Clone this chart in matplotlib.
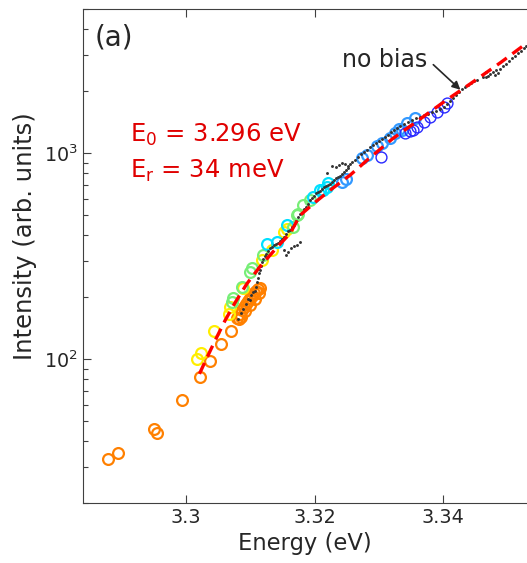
import numpy as np
import matplotlib
matplotlib.use("Agg")
import matplotlib.pyplot as plt

# ---- data (energy in eV, intensity in arb. units) ----
orange_E = [3.28794, 3.28949, 3.29502, 3.29544, 3.29938, 3.30218, 3.30381, 3.30549,
            3.30696, 3.30820, 3.30794, 3.30840, 3.30872, 3.30903, 3.30934, 3.30965,
            3.30996, 3.31027, 3.31058, 3.31089, 3.31121, 3.31152, 3.30918, 3.30996,
            3.31074, 3.31136, 3.30856]
orange_I = [32.6, 34.9, 45.6, 43.7, 63.1, 82.0, 98.1, 118.3,
            137.4, 156.7, 159.1, 166.3, 174.0, 179.9, 186.1, 192.5,
            199.1, 203.6, 210.6, 215.4, 220.3, 222.8, 172.0, 184.0,
            196.9, 210.6, 160.9]

yellow_E = [3.30167, 3.30233, 3.30436, 3.30685, 3.30669, 3.30887, 3.31183, 3.31338,
            3.31525, 3.31572]
yellow_I = [100, 107, 137, 178.5, 166, 222.8, 301.6, 337.6, 413.2, 427]

green_E = [3.30711, 3.30736, 3.30867, 3.31023, 3.31194, 3.31723, 3.31826, 3.31930,
           3.30996, 3.31665, 3.31743]
green_I = [188.9, 199.1, 225.3, 277.9, 319, 500, 559.6, 592, 264.5, 438.5, 509.7]

cyan_E = [3.31256, 3.31412, 3.31567, 3.31981, 3.32086, 3.32137, 3.32190, 3.32215]
cyan_I = [363.9, 370.5, 446.8, 614.2, 662.2, 662.2, 687.3, 714]

lblue_E = [3.32423, 3.32490, 3.32734, 3.32812, 3.32968, 3.33046, 3.33175, 3.33253,
           3.33304, 3.33357, 3.33435, 3.33564]
lblue_I = [724.4, 749, 945.5, 981, 1086, 1119, 1188, 1261, 1310, 1300, 1401, 1482]

blue_E = [3.33030, 3.33408, 3.33486, 3.33591, 3.33693, 3.33798, 3.33902, 3.34005,
          3.34058, 3.33533]
blue_I = [962.5, 1252, 1285, 1344, 1421, 1503, 1590, 1682, 1750, 1300]

nobias_E = [3.30809, 3.30856, 3.30887, 3.30934, 3.30965, 3.30996, 3.31012, 3.31043,
            3.31074, 3.31089, 3.31105, 3.31121, 3.31136, 3.31152, 3.31121, 3.31167,
            3.31183, 3.31198, 3.31230, 3.31245, 3.31276, 3.31307, 3.31339, 3.31370,
            3.31401, 3.31432, 3.31463, 3.31494, 3.31525, 3.31556, 3.31588, 3.31619,
            3.31650, 3.31681, 3.31712, 3.31743, 3.31774, 3.31805, 3.31837, 3.31868,
            3.31899, 3.31930, 3.31961, 3.31992, 3.32023, 3.32054, 3.32086, 3.32117,
            3.32148, 3.32179, 3.32210, 3.32241, 3.32272, 3.32303, 3.32335, 3.32366,
            3.32397, 3.32428, 3.32459, 3.32490, 3.32521, 3.32552, 3.32584, 3.32631,
            3.32677, 3.32724, 3.32770, 3.32817, 3.32864, 3.32910, 3.32957, 3.33004,
            3.33051, 3.33097, 3.33144, 3.33191, 3.33237, 3.33284, 3.33331, 3.33393,
            3.33455, 3.33517, 3.33580, 3.33642, 3.33704, 3.33766, 3.33829, 3.33891,
            3.33953, 3.34016, 3.34062, 3.34109, 3.34156, 3.34202, 3.34249, 3.34296,
            3.34342, 3.34389, 3.34436, 3.34482, 3.34529,
            3.31525, 3.31556, 3.31588, 3.31634, 3.31681, 3.31728, 3.31774,
            3.32272, 3.32335, 3.32381, 3.32428, 3.32475, 3.32521, 3.32195,
            3.34622, 3.34669, 3.34700, 3.34731, 3.34778, 3.34825, 3.34856, 3.34887,
            3.34934, 3.34980, 3.35027, 3.35074, 3.35121, 3.35167, 3.35214, 3.35261,
            3.35292, 3.34669, 3.34809]
nobias_I = [157, 168, 176, 186, 197, 193, 204, 213,
            215, 225, 238, 249, 261, 270, 276, 285,
            295, 305, 316, 326, 334, 345, 349, 357,
            361, 365, 374, 382, 391, 404, 418, 423,
            437, 447, 468, 489, 506, 511, 535, 547,
            566, 592, 605, 619, 640, 648, 655, 670,
            685, 693, 701, 708, 724, 741, 758, 766,
            775, 793, 811, 829, 848, 887, 907, 928,
            959, 992, 1015, 1038, 1073, 1098, 1123, 1148,
            1174, 1201, 1228, 1270, 1299, 1329, 1359, 1390,
            1421, 1453, 1486, 1503, 1537, 1554, 1590, 1608,
            1644, 1682, 1740, 1800, 1861, 1925, 1991, 2059,
            2106, 2154, 2202, 2253, 2278,
            338, 319, 330, 345, 353, 357, 369,
            867, 858, 877, 897, 887, 867, 802,
            2356, 2492, 2383, 2437, 2492, 2549, 2464, 2578,
            2666, 2727, 2820, 2917, 2983, 3085, 3155, 3264,
            3338, 2356, 2410]

fit_E = [3.30210, 3.30296, 3.30451, 3.30607, 3.30763, 3.30949, 3.31152, 3.31385,
         3.31619, 3.31774, 3.32008, 3.32241, 3.32552, 3.32817, 3.33206, 3.33642,
         3.34031, 3.34420, 3.34887, 3.35307]
fit_I = [84.8, 97.1, 122.8, 153.9, 188.1, 232.9, 281.9, 341,
         408.7, 500, 578.7, 662, 784, 927, 1174, 1470,
         1799, 2178, 2757, 3451]

TEXT = "#262626"
plt.rcParams.update({
    "font.family": "DejaVu Sans",
    "axes.edgecolor": "#404040",
    "xtick.color": "#404040",
    "ytick.color": "#404040",
    "xtick.labelcolor": TEXT,
    "ytick.labelcolor": TEXT,
})

fig = plt.figure(figsize=(5.27, 5.63), dpi=100)
ax = fig.add_axes([0.1575, 0.1066, 0.8425, 0.8766])

circ = dict(marker="o", ls="none", mfc="none", ms=7.8, mew=1.6)
ax.plot(orange_E, orange_I, mec="#ff8000", **circ)
ax.plot(yellow_E, yellow_I, mec="#ffee00", **circ)
ax.plot(green_E, green_I, mec="#77ee77", **circ)
ax.plot(cyan_E, cyan_I, mec="#00e0ff", **circ)
ax.plot(lblue_E, lblue_I, mec="#3399ff", **circ)
ax.plot(blue_E, blue_I, mec="#2a2aff", mew=1.0, marker="o", ls="none", mfc="none", ms=7.8)
ax.plot(nobias_E, nobias_I, "o", color="#333333", ms=2.1, mew=0)
ax.plot(fit_E, fit_I, color="#ff0000", lw=2.4, dashes=(3.6, 2.1))

ax.set_yscale("log")
ax.set_xlim(3.284, 3.353)
ax.set_ylim(20, 5000)
ax.set_xticks([3.30, 3.32, 3.34])
ax.set_xticklabels(["3.3", "3.32", "3.34"])
ax.spines["right"].set_visible(False)
ax.tick_params(which="both", direction="in", top=True, right=False, labelsize=13.8, width=0.8)
ax.tick_params(which="major", length=6)
ax.tick_params(which="minor", length=3.5)
ax.tick_params(axis="x", which="minor", top=False, bottom=False)

ax.set_xlabel("Energy (eV)", fontsize=16.3, color=TEXT, labelpad=4)
ax.set_ylabel("Intensity (arb. units)", fontsize=17.5, color=TEXT)
ax.yaxis.set_label_coords(-0.104, 0.541)

ax.text(0.027, 0.944, "(a)", transform=ax.transAxes, fontsize=20, color=TEXT,
        ha="left", va="center")
ax.text(0.106, 0.746, r"E$_0$ = 3.296 eV", transform=ax.transAxes, fontsize=17.5,
        color="#e00000", ha="left", va="center")
ax.text(0.106, 0.672, r"E$_\mathregular{r}$ = 34 meV", transform=ax.transAxes, fontsize=17.5,
        color="#e00000", ha="left", va="center")
ax.text(3.33082, 2850, "no bias", fontsize=17, color=TEXT, ha="center", va="center")
ax.annotate("", xy=(3.34265, 2036), xytext=(3.33844, 2696),
            arrowprops=dict(arrowstyle="-|>", color="#262626", lw=1.2,
                            shrinkA=0, shrinkB=0, mutation_scale=12))

fig.savefig("out.png", dpi=100)
